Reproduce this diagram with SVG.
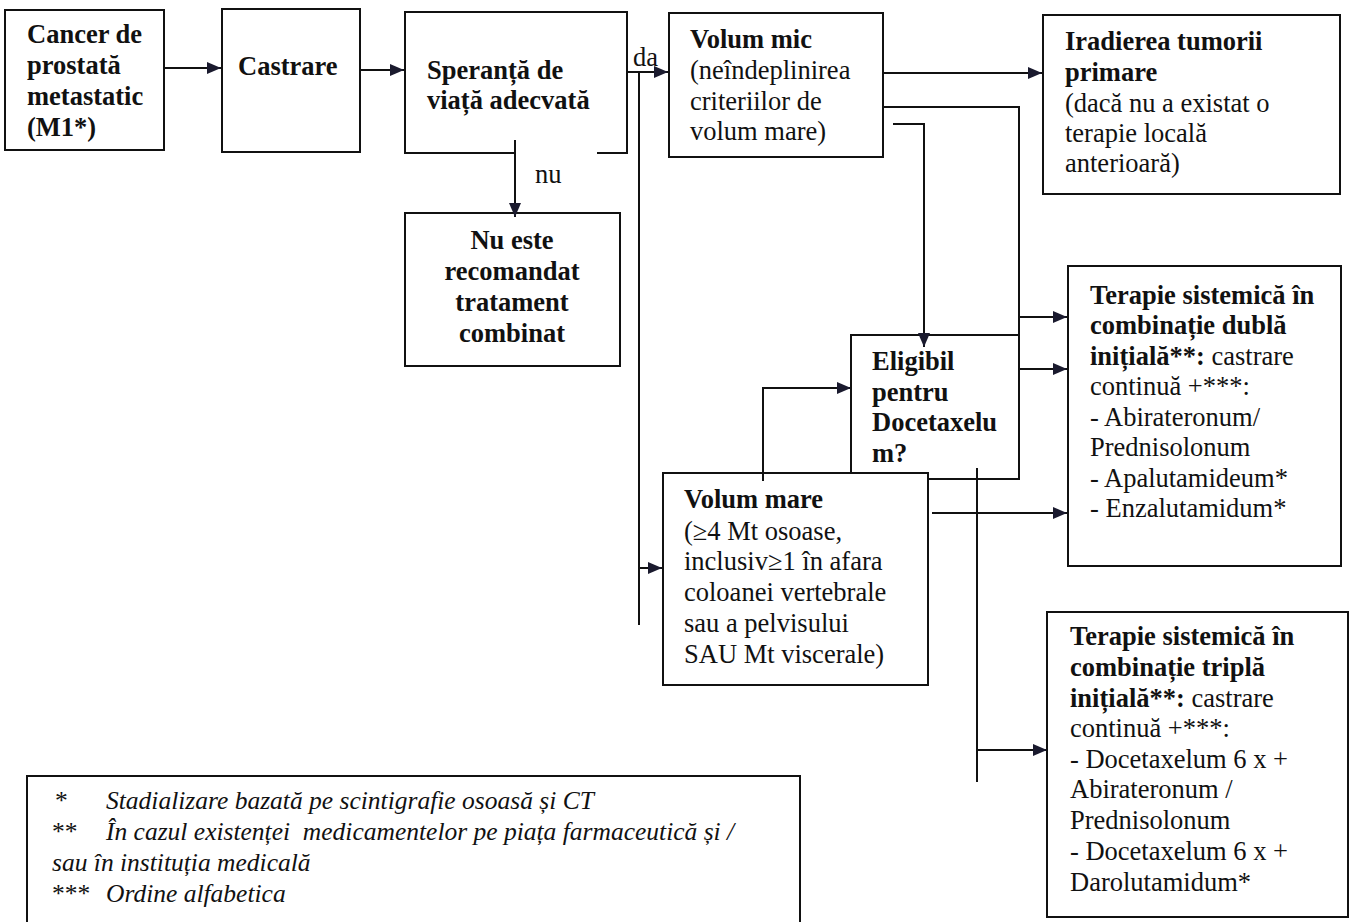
<svg xmlns="http://www.w3.org/2000/svg" width="1353" height="922" viewBox="0 0 1353 922">
<style>
.box{fill:#fff;stroke:#111;stroke-width:2}
.ln{fill:none;stroke:#111;stroke-width:2}
.t{font-family:"Liberation Serif","Times New Roman",serif;font-size:26.5px;fill:#111}
.b{font-weight:bold}
.fn{font-family:"Liberation Serif","Times New Roman",serif;font-size:25.5px;fill:#111;font-style:italic}
.st{font-style:normal}
</style>
<defs>
<marker id="ah" markerUnits="userSpaceOnUse" markerWidth="15" markerHeight="12" refX="14" refY="6" orient="auto">
<path d="M0,0 L14,6 L0,12 z" fill="#1a1a2e"/>
</marker>
</defs>
<rect width="1353" height="922" fill="#fff"/>

<g id="n1">
<rect class="box" x="5" y="10" width="159" height="140"/>
<text class="t b"><tspan x="27" y="43">Cancer de</tspan><tspan x="27" y="74">prostată</tspan><tspan x="27" y="105">metastatic</tspan><tspan x="27" y="136">(M1*)</tspan></text>
</g>
<g id="n2">
<rect class="box" x="222" y="9" width="138" height="143"/>
<text class="t b" x="238" y="75">Castrare</text>
</g>
<g id="n3">
<path class="ln" d="M515,153 L405,153 L405,12 L627,12 L627,153 L597,153"/>
<text class="t b"><tspan x="427" y="79">Speranță de</tspan><tspan x="427" y="109">viață adecvată</tspan></text>
</g>
<g id="n4">
<rect class="box" x="405" y="213" width="215" height="153"/>
<text class="t b" text-anchor="middle"><tspan x="512" y="249">Nu este</tspan><tspan x="512" y="280">recomandat</tspan><tspan x="512" y="311">tratament</tspan><tspan x="512" y="342">combinat</tspan></text>
</g>
<g id="n5">
<rect class="box" x="669" y="13" width="214" height="144"/>
<text class="t"><tspan class="b" x="690" y="48">Volum mic</tspan><tspan x="690" y="79">(neîndeplinirea</tspan><tspan x="690" y="110">criteriilor de</tspan><tspan x="690" y="140">volum mare)</tspan></text>
</g>
<g id="n6">
<rect class="box" x="1043" y="15" width="297" height="179"/>
<text class="t"><tspan class="b" x="1065" y="50">Iradierea tumorii</tspan><tspan class="b" x="1065" y="81">primare</tspan><tspan x="1065" y="112">(dacă nu a existat o</tspan><tspan x="1065" y="142">terapie locală</tspan><tspan x="1065" y="172">anterioară)</tspan></text>
</g>
<g id="n7">
<rect class="box" x="851" y="335" width="168" height="144"/>
<text class="t b"><tspan x="872" y="370">Eligibil</tspan><tspan x="872" y="401">pentru</tspan><tspan x="872" y="431">Docetaxelu</tspan><tspan x="872" y="462">m?</tspan></text>
</g>
<g id="n8">
<rect class="box" x="663" y="473" width="265" height="212"/>
<text class="t"><tspan class="b" x="684" y="508">Volum mare</tspan><tspan x="684" y="540">(≥4 Mt osoase,</tspan><tspan x="684" y="570">inclusiv≥1 în afara</tspan><tspan x="684" y="601">coloanei vertebrale</tspan><tspan x="684" y="632">sau a pelvisului</tspan><tspan x="684" y="663">SAU Mt viscerale)</tspan></text>
</g>
<g id="n9">
<rect class="box" x="1068" y="266" width="273" height="300"/>
<text class="t"><tspan class="b" x="1090" y="304">Terapie sistemică în</tspan><tspan class="b" x="1090" y="334">combinație dublă</tspan><tspan x="1090" y="365"><tspan class="b">inițială**:</tspan> castrare</tspan><tspan x="1090" y="395">continuă +***:</tspan><tspan x="1090" y="426">- Abirateronum/</tspan><tspan x="1090" y="456">Prednisolonum</tspan><tspan x="1090" y="487">- Apalutamideum*</tspan><tspan x="1090" y="517">- Enzalutamidum*</tspan></text>
</g>
<g id="n10">
<rect class="box" x="1047" y="612" width="301" height="305"/>
<text class="t"><tspan class="b" x="1070" y="645">Terapie sistemică în</tspan><tspan class="b" x="1070" y="676">combinație triplă</tspan><tspan x="1070" y="707"><tspan class="b">inițială**:</tspan> castrare</tspan><tspan x="1070" y="737">continuă +***:</tspan><tspan x="1070" y="768">- Docetaxelum 6 x +</tspan><tspan x="1070" y="798">Abirateronum /</tspan><tspan x="1070" y="829">Prednisolonum</tspan><tspan x="1070" y="860">- Docetaxelum 6 x +</tspan><tspan x="1070" y="891">Darolutamidum*</tspan></text>
</g>
<g id="legend">
<rect class="box" x="27" y="776" width="773" height="160"/>
<text class="fn"><tspan class="st" x="55" y="809">*</tspan><tspan x="106" y="809">Stadializare bazată pe scintigrafie osoasă și CT</tspan></text>
<text class="fn" xml:space="preserve"><tspan class="st" x="52" y="840">**</tspan><tspan x="106" y="840">În cazul existenței  medicamentelor pe piața farmaceutică și /</tspan></text>
<text class="fn" x="52" y="871">sau în instituția medicală</text>
<text class="fn"><tspan class="st" x="52" y="902">***</tspan><tspan x="106" y="902">Ordine alfabetica</tspan></text>
</g>

<g id="connectors">
<path class="ln" d="M164,68 L221,68" marker-end="url(#ah)"/>
<path class="ln" d="M360,70 L404,70" marker-end="url(#ah)"/>
<path class="ln" d="M627,72 L668,72" marker-end="url(#ah)"/>
<path class="ln" d="M639,72 L639,625"/>
<path class="ln" d="M639,568 L662,568" marker-end="url(#ah)"/>
<path class="ln" d="M515,140 L515,217" marker-end="url(#ah)"/>
<path class="ln" d="M883,73 L1042,73" marker-end="url(#ah)"/>
<path class="ln" d="M883,107 L1019,107 L1019,335"/>
<path class="ln" d="M1019,317 L1067,317" marker-end="url(#ah)"/>
<path class="ln" d="M1020,369 L1067,369" marker-end="url(#ah)"/>
<path class="ln" d="M893,124 L924,124 L924,347" marker-end="url(#ah)"/>
<path class="ln" d="M763,481 L763,388 L851,388" marker-end="url(#ah)"/>
<path class="ln" d="M932,513 L1067,513" marker-end="url(#ah)"/>
<path class="ln" d="M977,468 L977,782"/>
<path class="ln" d="M977,750 L1047,750" marker-end="url(#ah)"/>
</g>
<text class="t" x="633" y="66">da</text>
<text class="t" x="535" y="183">nu</text>
</svg>
